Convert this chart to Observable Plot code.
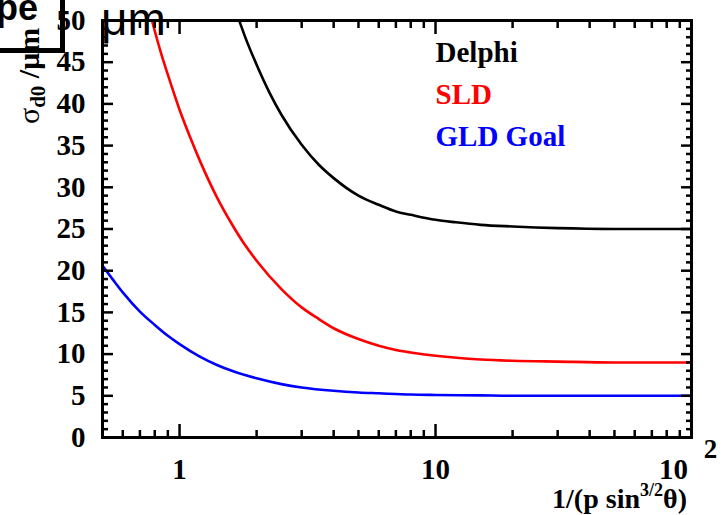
<!DOCTYPE html>
<html><head><meta charset="utf-8">
<script src="https://cdn.jsdelivr.net/npm/d3@7"></script>
<script src="https://cdn.jsdelivr.net/npm/@observablehq/plot@0.6"></script>
<style>body{margin:0;background:#fff;} svg{display:block}</style>
</head><body><div id="chart"></div>
<script>
// ---- data ----
const seriesNames = ["Delphi", "SLD", "GLD Goal"];

const delphiX = [1.71, 1.8, 2, 2.25, 2.5, 3, 3.5, 4, 5, 6, 7, 8, 10, 12, 15, 20, 30, 50, 100];
const delphiY = [50, 48.1, 44.7, 41.3, 38.7, 35.1, 32.7, 31.1, 29.0, 27.9, 27.1, 26.7, 26.1, 25.8, 25.5, 25.3, 25.1, 25.0, 25.0];

const sldX = [0.78, 0.85, 0.9, 1, 1.1, 1.2, 1.4, 1.6, 1.8, 2, 2.5, 3, 3.5, 4, 5, 6, 7, 8, 10, 15, 20, 30, 50, 100];
const sldY = [50, 45.9, 43.5, 39.3, 36.0, 33.2, 28.8, 25.6, 23.1, 21.2, 17.8, 15.6, 14.2, 13.1, 11.8, 11.0, 10.5, 10.2, 9.8, 9.35, 9.2, 9.1, 9.0, 9.0];

const gldX = [0.5, 0.55, 0.6, 0.7, 0.8, 0.9, 1, 1.2, 1.4, 1.6, 2, 2.5, 3, 4, 5, 6, 8, 10, 15, 20, 50, 100];
const gldY = [20.6, 18.9, 17.4, 15.1, 13.5, 12.2, 11.2, 9.7, 8.7, 8.0, 7.1, 6.4, 6.0, 5.6, 5.4, 5.3, 5.15, 5.1, 5.05, 5.0, 5.0, 5.0];

const yMajorTicks = [0, 5, 10, 15, 20, 25, 30, 35, 40, 45, 50];
const yMinorTicks = d3.range(0, 51).filter(v => v % 5 !== 0);
const xMajorTicks = [1, 10, 100];
const xMinorTicks = [0.6, 0.7, 0.8, 0.9, 2, 3, 4, 5, 6, 7, 8, 9, 20, 30, 40, 50, 60, 70, 80, 90];
const xTickLabels = [1, 10];

// ---- build table ----
const table = [];
[[delphiX, delphiY], [sldX, sldY], [gldX, gldY]].forEach(([xs, ys], k) => {
  xs.forEach((x, i) => table.push({series: seriesNames[k], x, y: ys[i]}));
});

const font = {fontFamily: "Liberation Serif", fontWeight: "bold"};
const tickOpts = {strokeWidth: 2.5, tickFormat: () => "", label: null};

const chart = Plot.plot({
  width: 724, height: 515,
  marginLeft: 102, marginRight: 33, marginTop: 20, marginBottom: 78,
  style: {background: "#fff", color: "#000", overflow: "visible"},
  x: {type: "log", domain: [0.5, 100]},
  y: {domain: [0, 50]},
  color: {domain: seriesNames, range: ["#000000", "#ff0000", "#0000ff"]},
  marks: [
    Plot.line(table, {x: "x", y: "y", z: "series", stroke: "series", strokeWidth: 2.6, curve: "monotone-x", clip: true}),
    Plot.axisY(yMajorTicks, {anchor: "left", tickSize: -11, ...tickOpts}),
    Plot.axisY(yMinorTicks, {anchor: "left", tickSize: -6, ...tickOpts}),
    Plot.axisY(yMajorTicks, {anchor: "right", tickSize: -11, ...tickOpts}),
    Plot.axisY(yMinorTicks, {anchor: "right", tickSize: -6, ...tickOpts}),
    Plot.axisX(xMajorTicks, {anchor: "bottom", tickSize: -13, ...tickOpts}),
    Plot.axisX(xMinorTicks, {anchor: "bottom", tickSize: -7, ...tickOpts}),
    Plot.axisX(xMajorTicks, {anchor: "top", tickSize: -13, ...tickOpts}),
    Plot.axisX(xMinorTicks, {anchor: "top", tickSize: -7, ...tickOpts}),
    Plot.axisY(yMajorTicks, {anchor: "left", tickSize: 0, tickPadding: 17, fontSize: 29, ...font, label: null}),
    Plot.axisX(xTickLabels, {anchor: "bottom", tickSize: 0, tickPadding: 21, fontSize: 29, ...font, label: null}),
    Plot.text([100], {x: d => d, frameAnchor: "bottom", lineAnchor: "middle", text: () => "10", dx: -18, dy: 32, fontSize: 29, ...font}),
    Plot.text([100], {x: d => d, frameAnchor: "bottom", lineAnchor: "middle", text: () => "2", dx: 19, dy: 12, fontSize: 27, ...font}),
    Plot.frame({strokeWidth: 3}),
    Plot.text(seriesNames, {x: () => 10, y: (d, i) => 45 - 5 * i, text: d => d, fill: d => d, textAnchor: "start", lineAnchor: "bottom", fontSize: 29, ...font})
  ]
});

document.getElementById("chart").appendChild(chart);

const svg = d3.select(chart);
// x title
const xt = svg.append("text").attr("x", 687).attr("y", 508).attr("text-anchor", "end")
  .attr("font-family", "Liberation Serif").attr("font-weight", "bold").attr("font-size", 28);
xt.append("tspan").text("1/(p sin");
xt.append("tspan").attr("dy", -12).attr("font-size", 18).text("3/2");
xt.append("tspan").attr("dy", 12).text("θ)");
// y title
const yt = svg.append("text").attr("transform", "translate(39,124) rotate(-90)").attr("text-anchor", "start")
  .attr("font-family", "Liberation Serif").attr("font-weight", "bold").attr("font-size", 30);
yt.append("tspan").attr("font-weight", "normal").text("σ");
yt.append("tspan").attr("dy", 6).attr("font-size", 21).text("d0");
yt.append("tspan").attr("dy", -6).text(" /μm");
// overlay fragments from the source slide
svg.append("path").attr("d", "M0,50.5H62.5V0").attr("stroke", "#000").attr("stroke-width", 5).attr("fill", "none");
svg.append("text").attr("x", -4).attr("y", 20).attr("text-anchor", "start").attr("font-family", "Liberation Sans").attr("font-weight", "bold").attr("font-size", 36).text("pe");
svg.append("text").attr("x", 101).attr("y", 35).attr("text-anchor", "start").attr("font-family", "Liberation Sans").attr("font-size", 46).text("μm");
</script>
</body></html>
